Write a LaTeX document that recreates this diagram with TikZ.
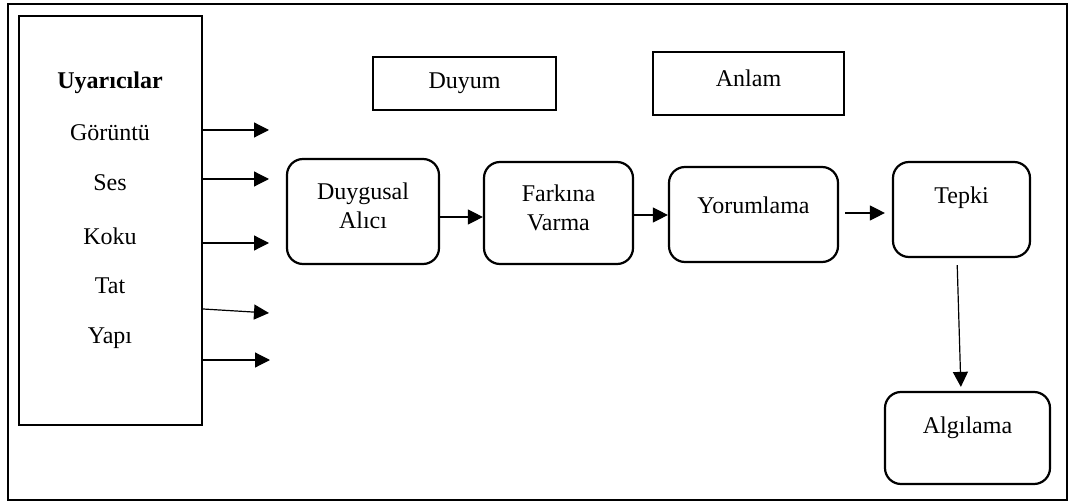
\documentclass[tikz,border=0pt]{standalone}
\usepackage{fontspec}
\setmainfont{Liberation Serif}
\usetikzlibrary{arrows.meta}
\begin{document}
\begin{tikzpicture}[x=0.5pt,y=-0.5pt,
  txt/.style={font=\fontsize{12}{14.5}\selectfont, inner sep=0pt, align=center},
  sqbox/.style={draw, line width=1.1pt, inner sep=0pt},
  rbox/.style={draw, line width=1.1pt, rounded corners=8pt, inner sep=0pt},
  arr/.style={line width=0.6pt, -{Triangle[length=7.5pt,width=7.5pt]}}]
\useasboundingbox (0,0) rectangle (1070,502);
\draw[line width=1pt] (8,4) rectangle (1067,500);
% left box
\node[sqbox, line width=1.2pt, minimum width=91.5pt, minimum height=204.5pt] (u) at (110.5,220.5) {};
\node[txt, font=\fontsize{12}{14.5}\selectfont\bfseries] (t0) at (110,83) {Uyarıcılar};
\node[txt] (t1) at (110,133) {Görüntü};
\node[txt] (t2) at (110,183) {Ses};
\node[txt] (t3) at (110,236) {Koku};
\node[txt] (t4) at (110,286) {Tat};
\node[txt] (t5) at (110,338) {Yapı};
% free ends
\coordinate (e1) at (269,130);
\coordinate (e2) at (269,179);
\coordinate (e3) at (269,243);
\coordinate (e4) at (269,313);
\coordinate (e5) at (270,360);
\draw[arr] (u.east |- 0,130) -- (e1);
\draw[arr] (u.east |- 0,179) -- (e2);
\draw[arr] (u.east |- 0,243) -- (e3);
\draw[arr] (u.east |- 0,309) -- (e4);
\draw[arr] (u.east |- 0,360) -- (e5);
% top boxes
\node[sqbox, minimum width=91.5pt, minimum height=26.5pt] (duyum) at (464.5,83.5) {};
\node[txt] at (464.5,83) {Duyum};
\node[sqbox, minimum width=95.5pt, minimum height=31.5pt] (anlam) at (748.5,83.5) {};
\node[txt] at (748.5,78) {Anlam};
% process boxes
\node[rbox, minimum width=76pt, minimum height=52.5pt] (da) at (363,211.5) {};
\node[txt] at (363,206) {Duygusal\\Alıcı};
\node[rbox, minimum width=74.5pt, minimum height=51pt] (fv) at (558.5,213) {};
\node[txt] at (558.5,208) {Farkına\\Varma};
\node[rbox, minimum width=84.5pt, minimum height=47.5pt] (yo) at (753.5,214.5) {};
\node[txt] at (753.5,205) {Yorumlama};
\node[rbox, minimum width=68.5pt, minimum height=47.5pt] (te) at (961.5,209.5) {};
\node[txt] at (961.5,198) {Tepki};
\node[rbox, minimum width=82.5pt, minimum height=46pt] (al) at (967.5,438) {};
\node[txt] at (967.5,428) {Algılama};
% connectors
\draw[arr] (da.east |- 0,217) -- (fv.west |- 0,217);
\draw[arr] (fv.east |- 0,215) -- (yo.west |- 0,215);
\draw[arr, shorten <=3pt, shorten >=3.5pt] (yo.east |- 0,213) -- (te.west |- 0,213);
\draw[arr, shorten <=3.5pt, shorten >=2pt] (te.south -| 957,0) -- (al.north -| 961,0);
\end{tikzpicture}
\end{document}
